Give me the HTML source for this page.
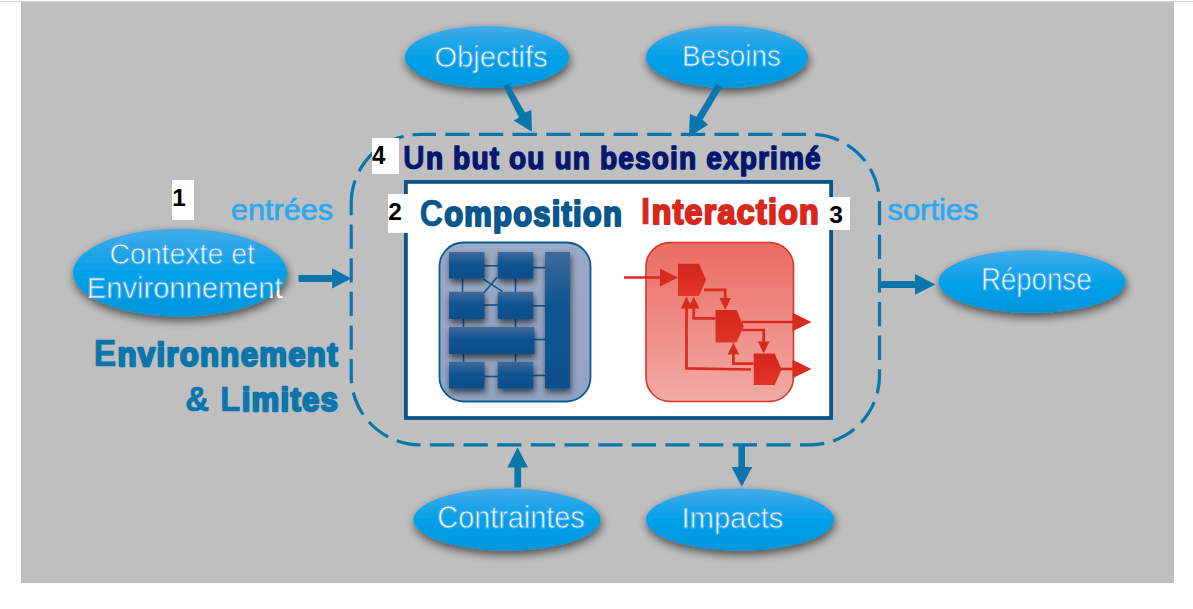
<!DOCTYPE html>
<html><head><meta charset="utf-8"><style>
html,body{margin:0;padding:0;background:#fff;width:1193px;height:609px;overflow:hidden}
svg{display:block}
text{font-family:"Liberation Sans",sans-serif}
</style></head><body>
<svg width="1193" height="609" viewBox="0 0 1193 609">
<defs><linearGradient id="e1" gradientUnits="userSpaceOnUse" x1="0" y1="26" x2="0" y2="88"><stop offset="0" stop-color="#45abea"/><stop offset="0.5" stop-color="#03a0e8"/><stop offset="1" stop-color="#0096dc"/></linearGradient><linearGradient id="e2" gradientUnits="userSpaceOnUse" x1="0" y1="26" x2="0" y2="88"><stop offset="0" stop-color="#45abea"/><stop offset="0.5" stop-color="#03a0e8"/><stop offset="1" stop-color="#0096dc"/></linearGradient><linearGradient id="e3" gradientUnits="userSpaceOnUse" x1="0" y1="228.7" x2="0" y2="316.7"><stop offset="0" stop-color="#45abea"/><stop offset="0.5" stop-color="#03a0e8"/><stop offset="1" stop-color="#0096dc"/></linearGradient><linearGradient id="e4" gradientUnits="userSpaceOnUse" x1="0" y1="488.5" x2="0" y2="550.5"><stop offset="0" stop-color="#45abea"/><stop offset="0.5" stop-color="#03a0e8"/><stop offset="1" stop-color="#0096dc"/></linearGradient><linearGradient id="e5" gradientUnits="userSpaceOnUse" x1="0" y1="488.5" x2="0" y2="550.5"><stop offset="0" stop-color="#45abea"/><stop offset="0.5" stop-color="#03a0e8"/><stop offset="1" stop-color="#0096dc"/></linearGradient><linearGradient id="e6" gradientUnits="userSpaceOnUse" x1="0" y1="250.20000000000002" x2="0" y2="313.0"><stop offset="0" stop-color="#45abea"/><stop offset="0.5" stop-color="#03a0e8"/><stop offset="1" stop-color="#0096dc"/></linearGradient>
<clipPath id="ce3"><ellipse cx="180" cy="272.7" rx="107" ry="44"/></clipPath>
<linearGradient id="cbg" x1="0" y1="0" x2="0" y2="1">
 <stop offset="0" stop-color="#9aa9c4"/><stop offset="1" stop-color="#92a3c1"/>
</linearGradient>
<linearGradient id="bx" x1="0" y1="0" x2="0" y2="1">
 <stop offset="0" stop-color="#41699b"/><stop offset="0.5" stop-color="#0c5290"/><stop offset="1" stop-color="#0a4f8c"/>
</linearGradient>
<linearGradient id="bar" x1="0" y1="0" x2="0" y2="1">
 <stop offset="0" stop-color="#3f6a9c"/><stop offset="0.4" stop-color="#0d5592"/><stop offset="1" stop-color="#0a4f8e"/>
</linearGradient>
<linearGradient id="rg" x1="0" y1="0" x2="0" y2="1">
 <stop offset="0" stop-color="#ea6c62"/><stop offset="1" stop-color="#f2aba5"/>
</linearGradient>
<linearGradient id="pg" x1="0" y1="0" x2="0" y2="1">
 <stop offset="0" stop-color="#d4271d"/><stop offset="1" stop-color="#e03428"/>
</linearGradient>
<filter id="sh" x="-20%" y="-30%" width="140%" height="170%">
 <feGaussianBlur in="SourceAlpha" stdDeviation="5"/><feOffset dx="1" dy="4"/>
 <feComponentTransfer><feFuncA type="linear" slope="0.6"/></feComponentTransfer>
 <feMerge><feMergeNode/><feMergeNode in="SourceGraphic"/></feMerge>
</filter>
<filter id="bs" x="-40%" y="-40%" width="180%" height="180%">
 <feGaussianBlur in="SourceAlpha" stdDeviation="3"/><feOffset dx="1" dy="3.5"/>
 <feComponentTransfer><feFuncA type="linear" slope="0.6"/></feComponentTransfer>
 <feMerge><feMergeNode/><feMergeNode in="SourceGraphic"/></feMerge>
</filter>
</defs>
<rect x="0" y="1" width="1193" height="1" fill="#d4d4d4"/>
<rect x="21" y="2" width="1153" height="581" fill="#bfbfbf"/>
<ellipse cx="487" cy="57" rx="82" ry="31" fill="url(#e1)" filter="url(#sh)"/>
<ellipse cx="727" cy="57" rx="81" ry="31" fill="url(#e2)" filter="url(#sh)"/>
<ellipse cx="180" cy="272.7" rx="107" ry="44" fill="url(#e3)" filter="url(#sh)"/>
<ellipse cx="507" cy="519.5" rx="93.5" ry="31" fill="url(#e4)" filter="url(#sh)"/>
<ellipse cx="740" cy="519.5" rx="94" ry="31" fill="url(#e5)" filter="url(#sh)"/>
<ellipse cx="1032" cy="281.6" rx="93.5" ry="31.4" fill="url(#e6)" filter="url(#sh)"/>
<path d="M420.2,134.3 H810.5 A69,69 0 0 1 879.5,203.3 V375.8 A69,69 0 0 1 810.5,444.8 H420.2 A69,69 0 0 1 351.2,375.8 V203.3 A69,69 0 0 1 420.2,134.3 Z" fill="none" stroke="#0a76ab" stroke-width="3.2" stroke-dasharray="15.75 9.35 24.3 9.35 24.3 9.35 24.3 9.35 24.3 9.35 24.3 9.35 24.3 9.35 24.3 9.35 24.3 9.35 24.3 9.35 24.3 9.35 24.3 9.35 24.3 9.35 24.3 9.35 24.3 9.35 24.3 9.35 24.3 9.35 24.3 9.35 24.3 9.35 24.3 9.35 24.3 9.35 24.3 9.35 24.3 9.35 24.3 9.35 24.3 9.35 24.3 9.35 24.3 9.35 24.3 9.35 24.3 9.35 24.3 9.35 24.3 9.35 24.3 9.35 24.3 9.35 24.3 9.35 24.3 9.35 24.3 9.35 24.3 9.35 24.3 9.35 24.3 9.35 24.3 9.35 24.3 9.35 24.3 9.35 24.3 9.35 35.1 10.2 24.3 9.35 24.3 9.0 8.55 0"/>
<polygon points="503.30,86.00 508.70,84.00 525.00,112.50 531.40,110.00 531.90,131.70 513.60,120.40 519.00,117.40" fill="#0a76ab"/>
<polygon points="716.00,84.00 721.90,87.40 702.60,119.70 708.00,124.80 688.90,137.10 689.90,114.00 696.50,116.60" fill="#0a76ab"/>
<polygon points="298.50,275.00 332.10,275.00 332.10,268.30 351.30,278.60 332.10,288.60 332.10,282.00 298.50,282.00" fill="#0a76ab"/>
<polygon points="881.00,281.00 915.00,281.00 915.00,274.00 935.40,284.40 915.00,294.70 915.00,288.00 881.00,288.00" fill="#0a76ab"/>
<polygon points="514.40,487.50 514.40,467.50 507.30,467.50 517.60,447.30 528.00,467.50 521.10,467.50 521.10,487.50" fill="#0a76ab"/>
<polygon points="738.40,446.00 745.00,446.00 745.00,467.00 752.20,467.00 741.80,486.70 731.50,467.00 738.40,467.00" fill="#0a76ab"/>
<rect x="405.9" y="181.9" width="425.2" height="236.1" fill="#fff" stroke="#0b5488" stroke-width="3.8"/>
<rect x="439.5" y="242.5" width="151" height="159" rx="24" ry="24" fill="url(#cbg)" stroke="#0d5a94" stroke-width="1.8"/><line x1="484" y1="265.8" x2="498" y2="265.8" stroke="#12558f" stroke-width="1.6"/><line x1="533" y1="267.6" x2="545" y2="267.6" stroke="#12558f" stroke-width="1.6"/><line x1="462.5" y1="278" x2="462.5" y2="292" stroke="#12558f" stroke-width="1.6"/><line x1="515.5" y1="278" x2="515.5" y2="292" stroke="#12558f" stroke-width="1.6"/><line x1="483.4" y1="279.2" x2="502.6" y2="291.7" stroke="#12558f" stroke-width="1.6"/><line x1="497" y1="277.3" x2="484" y2="292.7" stroke="#12558f" stroke-width="1.6"/><line x1="484" y1="305" x2="498" y2="305" stroke="#12558f" stroke-width="1.6"/><line x1="533" y1="305.8" x2="545" y2="305.8" stroke="#12558f" stroke-width="1.6"/><line x1="463.5" y1="319" x2="463.5" y2="327" stroke="#12558f" stroke-width="1.6"/><line x1="515.5" y1="319" x2="515.5" y2="327" stroke="#12558f" stroke-width="1.6"/><line x1="534" y1="339.5" x2="545" y2="339.5" stroke="#12558f" stroke-width="1.6"/><line x1="463.5" y1="354" x2="463.5" y2="362" stroke="#12558f" stroke-width="1.6"/><line x1="515.5" y1="354" x2="515.5" y2="362" stroke="#12558f" stroke-width="1.6"/><line x1="484" y1="376.5" x2="498" y2="376.5" stroke="#12558f" stroke-width="1.6"/><line x1="533" y1="375.5" x2="545" y2="375.5" stroke="#12558f" stroke-width="1.6"/><rect x="449" y="252" width="35.5" height="26.5" fill="url(#bx)" filter="url(#bs)"/><rect x="497.7" y="252" width="35.6" height="26.5" fill="url(#bx)" filter="url(#bs)"/><rect x="449" y="291.8" width="35.5" height="27.2" fill="url(#bx)" filter="url(#bs)"/><rect x="497.7" y="291.8" width="35.6" height="27.2" fill="url(#bx)" filter="url(#bs)"/><rect x="449" y="327" width="85.4" height="27" fill="url(#bx)" filter="url(#bs)"/><rect x="449" y="361.7" width="35.5" height="26.8" fill="url(#bx)" filter="url(#bs)"/><rect x="497.7" y="361.7" width="35.6" height="26.8" fill="url(#bx)" filter="url(#bs)"/><rect x="545" y="252" width="25" height="136.5" fill="url(#bar)" filter="url(#bs)"/>
<rect x="646" y="242.5" width="147.5" height="159" rx="24" ry="24" fill="url(#rg)" stroke="#d93228" stroke-width="1.6"/><polygon points="678.00,263.70 699.00,263.70 706.00,279.85 699.00,296.00 678.00,296.00" fill="url(#pg)"/><polygon points="715.50,310.00 736.60,310.00 743.60,326.25 736.60,342.50 715.50,342.50" fill="url(#pg)"/><polygon points="753.70,353.40 774.60,353.40 781.60,369.20 774.60,385.00 753.70,385.00" fill="url(#pg)"/><polyline points="624,277.5 664,277.5" fill="none" stroke="#d92a20" stroke-width="2.7"/><polygon points="660.00,268.50 660.00,286.50 678.00,277.50" fill="#d92a20"/><polyline points="704,289.8 725.2,289.8 725.2,300" fill="none" stroke="#d92a20" stroke-width="2.7"/><polygon points="719.45,298.00 730.95,298.00 725.20,310.00" fill="#d92a20"/><polyline points="715.5,318.4 693.7,318.4 693.7,305" fill="none" stroke="#d92a20" stroke-width="2.7"/><polygon points="687.95,308.50 699.45,308.50 693.70,296.50" fill="#d92a20"/><polyline points="742,322 795,322" fill="none" stroke="#d92a20" stroke-width="2.7"/><polygon points="792.50,312.75 792.50,331.25 811.50,322.00" fill="#d92a20"/><polyline points="742,330 763.7,330 763.7,345" fill="none" stroke="#d92a20" stroke-width="2.7"/><polygon points="757.95,341.40 769.45,341.40 763.70,353.40" fill="#d92a20"/><polyline points="753.7,363.7 733.4,363.7 733.4,350" fill="none" stroke="#d92a20" stroke-width="2.7"/><polygon points="727.65,354.50 739.15,354.50 733.40,342.50" fill="#d92a20"/><polyline points="751,369.5 686.5,368.4 686.5,305" fill="none" stroke="#d92a20" stroke-width="2.7"/><polygon points="680.75,308.50 692.25,308.50 686.50,296.50" fill="#d92a20"/><polyline points="780,369 795,369" fill="none" stroke="#d92a20" stroke-width="2.7"/><polygon points="792.50,359.75 792.50,378.25 811.50,369.00" fill="#d92a20"/>
<rect x="172" y="180" width="22" height="40" fill="#fff"/>
<rect x="372" y="138" width="27" height="36" fill="#fff"/>
<rect x="388" y="194" width="20" height="39" fill="#fff"/>
<rect x="829" y="197" width="21" height="33" fill="#fff"/>
<text transform="matrix(0.2911 0 0 0.3043 434.44 66.50)" font-weight="400" font-size="100" fill="#ffffff" stroke="url(#e1)" stroke-width="1.0" vector-effect="non-scaling-stroke" stroke-linejoin="round">Objectifs</text>
<text transform="matrix(0.2779 0 0 0.3014 681.98 66.20)" font-weight="400" font-size="100" fill="#ffffff" stroke="url(#e2)" stroke-width="1.0" vector-effect="non-scaling-stroke" stroke-linejoin="round">Besoins</text>
<text transform="matrix(0.2846 0 0 0.2971 109.38 264.00)" font-weight="400" font-size="100" fill="#ffffff" stroke="url(#e3)" stroke-width="1.0" vector-effect="non-scaling-stroke" stroke-linejoin="round">Contexte et</text>
<text transform="matrix(0.2911 0 0 0.2942 86.87 298.00)" font-weight="400" font-size="100" fill="#ffffff" stroke="none" stroke-width="1.0" vector-effect="non-scaling-stroke" stroke-linejoin="round">Environnement</text>
<g clip-path="url(#ce3)"><text transform="matrix(0.2911 0 0 0.2942 86.87 298.00)" font-weight="400" font-size="100" fill="none" stroke="url(#e3)" stroke-width="1.0" vector-effect="non-scaling-stroke" stroke-linejoin="round">Environnement</text></g>
<text transform="matrix(0.2881 0 0 0.3087 437.36 528.30)" font-weight="400" font-size="100" fill="#ffffff" stroke="url(#e4)" stroke-width="1.0" vector-effect="non-scaling-stroke" stroke-linejoin="round">Contraintes</text>
<text transform="matrix(0.2908 0 0 0.3014 681.58 528.20)" font-weight="400" font-size="100" fill="#ffffff" stroke="url(#e5)" stroke-width="1.0" vector-effect="non-scaling-stroke" stroke-linejoin="round">Impacts</text>
<text transform="matrix(0.2765 0 0 0.3072 980.89 290.40)" font-weight="400" font-size="100" fill="#ffffff" stroke="url(#e6)" stroke-width="1.0" vector-effect="non-scaling-stroke" stroke-linejoin="round">Réponse</text>
<text transform="matrix(0.3064 0 0 0.2962 230.92 219.65)" font-weight="400" font-size="100" fill="#2aa9f2" stroke="#2aa9f2" stroke-width="0.7" vector-effect="non-scaling-stroke" stroke-linejoin="round">entrées</text>
<text transform="matrix(0.3094 0 0 0.2887 887.42 219.65)" font-weight="400" font-size="100" fill="#2aa9f2" stroke="#2aa9f2" stroke-width="0.7" vector-effect="non-scaling-stroke" stroke-linejoin="round">sorties</text>
<text transform="matrix(0.2809 0 0 0.3178 403.06 169.15)" font-weight="700" font-size="100" letter-spacing="4" fill="#041670" stroke="#041670" stroke-width="1.5" vector-effect="non-scaling-stroke" stroke-linejoin="round"><tspan font-size="107.18">U</tspan>n but ou un besoin exprimé</text>
<text transform="matrix(0.3090 0 0 0.3495 419.81 225.55)" font-weight="700" font-size="100" letter-spacing="4" fill="#0b568c" stroke="#0b568c" stroke-width="2.1" vector-effect="non-scaling-stroke" stroke-linejoin="round"><tspan font-size="104.07">C</tspan>omposition</text>
<text transform="matrix(0.3217 0 0 0.3439 640.80 223.75)" font-weight="700" font-size="100" letter-spacing="4" fill="#d8281e" stroke="#d8281e" stroke-width="2.1" vector-effect="non-scaling-stroke" stroke-linejoin="round"><tspan font-size="107.46">I</tspan>nteraction</text>
<text transform="matrix(0.3122 0 0 0.3346 93.71 366.30)" font-weight="700" font-size="100" letter-spacing="4" fill="#0a76ab" stroke="#0a76ab" stroke-width="2.2" vector-effect="non-scaling-stroke" stroke-linejoin="round"><tspan font-size="108.29">E</tspan>nvironnement</text>
<text transform="matrix(0.3116 0 0 0.3364 185.24 411.10)" font-weight="700" font-size="100" letter-spacing="4" fill="#0a76ab" stroke="#0a76ab" stroke-width="2.2" vector-effect="non-scaling-stroke" stroke-linejoin="round"><tspan font-size="105.97">&amp;</tspan> <tspan font-size="105.97">L</tspan>imites</text>
<text transform="matrix(0.2447 0 0 0.2464 172.13 206.10)" font-weight="700" font-size="100" fill="#000">1</text>
<text transform="matrix(0.2396 0 0 0.2565 372.12 164.40)" font-weight="700" font-size="100" fill="#000">4</text>
<text transform="matrix(0.2449 0 0 0.2429 388.27 220.00)" font-weight="700" font-size="100" fill="#000">2</text>
<text transform="matrix(0.2460 0 0 0.2324 829.21 223.00)" font-weight="700" font-size="100" fill="#000">3</text>
</svg>
</body></html>
